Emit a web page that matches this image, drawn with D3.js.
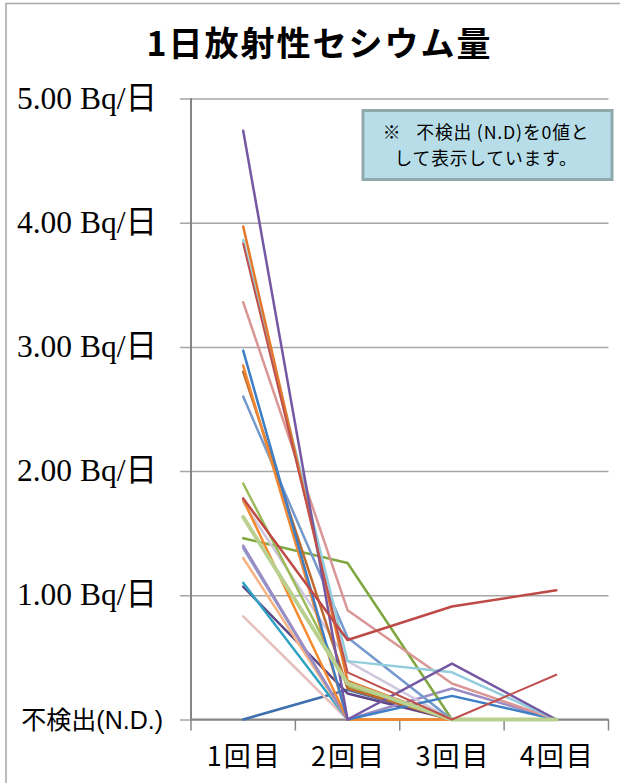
<!DOCTYPE html>
<html><head><meta charset="utf-8">
<script src="https://cdn.jsdelivr.net/npm/d3@7"></script>
<style>html,body{margin:0;padding:0;background:#fff;}svg{display:block;}</style>
</head><body>
<svg id="chart" width="620" height="783"></svg>
<script>
const title = "1日放射性セシウム量";
const categories = ["1回目", "2回目", "3回目", "4回目"];
const yTickValues = [0, 1, 2, 3, 4, 5];
const yTickLabels = ["不検出(N.D.)", "1.00 Bq/日", "2.00 Bq/日", "3.00 Bq/日", "4.00 Bq/日", "5.00 Bq/日"];
const noteMark = "※";
const noteLine1 = "不検出 (N.D)を0値と";
const noteLine2 = "して表示しています。";

// series values (Bq/day), N.D. shown as 0
const s01 = [4.74, 0.00, 0.45, 0.00];
const s02 = [3.97, 0.31, 0.00, 0.00];
const s03 = [3.86, 0.47, 0.38, 0.00];
const s04 = [3.83, 0.38, 0.00, 0.36];
const s05 = [3.36, 0.88, 0.29, 0.00];
const s06 = [2.97, 0.00, 0.19, 0.00];
const s07 = [2.85, 0.00, 0.00, 0.00];
const s08 = [2.80, 0.25, 0.00, 0.00];
const s09 = [2.60, 0.66, 0.00, 0.00];
const s10 = [1.90, 0.27, 0.00, 0.00];
const s11 = [1.78, 0.64, 0.91, 1.04];
const s12 = [1.77, 0.00, 0.00, 0.00];
const s13 = [1.75, 0.47, 0.00, 0.00];
const s14 = [1.63, 0.29, 0.00, 0.00];
const s15 = [1.46, 1.26, 0.00, 0.00];
const s16 = [1.40, 0.00, 0.25, 0.00];
const s17 = [1.38, 0.00, 0.00, 0.00];
const s18 = [1.30, 0.00, 0.00, 0.00];
const s19 = [1.10, 0.00, 0.00, 0.00];
const s20 = [1.07, 0.21, 0.00, 0.00];
const s21 = [0.83, 0.00, 0.00, 0.00];
const s22 = [0.00, 0.24, 0.00, 0.00];

const seriesList = [s22, s21, s20, s19, s18, s17, s16, s15, s13, s12, s10, s09, s08, s07, s06, s05, s03, s02, s01, s14, s11, s04];
const colors = ["#3E6FAE", "#E6BEBD", "#5E4785", "#2FA3C3", "#F9B383", "#8C9DCB", "#9C8CC6", "#7FA63F", "#CFC6DD", "#F58A2E", "#9BBB59", "#7599CC", "#BF6A2C", "#EE8834", "#3D7EC5", "#D99694", "#93CDDD", "#E3782A", "#7558A3", "#B9D08F", "#BE4A47", "#C0504D"];
const widths = [2.5, 2.5, 2.5, 2.5, 2.5, 2.5, 2.5, 2.5, 2.5, 2.5, 2.5, 2.5, 2.5, 2.5, 2.5, 2.5, 2.5, 2.5, 2.5, 4, 2.5, 2];

const svg = d3.select("#chart");

// outer chart border
svg.append("rect").attr("x", 6).attr("y", 3.5).attr("width", 700).attr("height", 900)
  .attr("fill", "none").attr("stroke", "#A6A6A6").attr("stroke-width", 1.5);

// title
svg.append("text").attr("x", 319.5).attr("y", 56)
  .attr("text-anchor", "middle")
  .attr("font-family", "'Noto Sans CJK JP', sans-serif")
  .attr("font-weight", "bold").attr("font-size", 34)
  .attr("letter-spacing", 2)
  .text(title);

const plotL = 191, plotR = 608.5, plotT = 98.5, plotB = 719.5;
const x = d3.scaleBand().domain(categories).range([plotL, plotR]);
const y = d3.scaleLinear().domain([0, 5]).range([plotB, plotT]);
const cx = c => x(c) + x.bandwidth() / 2;

// gridlines (extend left of the axis as tick marks)
const yAxis = d3.axisLeft(y).tickValues(yTickValues).tickSize(-(plotR - plotL + 11)).tickFormat("");
const gy = svg.append("g").attr("transform", `translate(${plotL - 11},0)`).call(yAxis);
gy.select(".domain").remove();
gy.selectAll(".tick line").attr("stroke", "#A6A6A6").attr("stroke-width", 1.5);

// y axis vertical line
svg.append("line").attr("x1", plotL).attr("x2", plotL).attr("y1", plotT - 0.5).attr("y2", plotB)
  .attr("stroke", "#868686").attr("stroke-width", 2);

// x axis with tick marks at band boundaries
const xAxisG = svg.append("g").attr("transform", `translate(0,${plotB})`);
xAxisG.append("line").attr("x1", plotL).attr("x2", plotR).attr("y1", 0).attr("y2", 0)
  .attr("stroke", "#868686").attr("stroke-width", 2);
const boundaries = categories.map(c => x(c)).concat([plotR]);
xAxisG.selectAll("line.tk").data(boundaries).join("line").attr("class", "tk")
  .attr("x1", d => d).attr("x2", d => d).attr("y1", 0).attr("y2", 11)
  .attr("stroke", "#868686").attr("stroke-width", 1.5);

// x labels
svg.append("g").selectAll("text").data(categories).join("text")
  .attr("x", d => cx(d) + 1).attr("y", 766)
  .attr("text-anchor", "middle")
  .attr("font-family", "'Noto Sans CJK JP', sans-serif")
  .attr("font-size", 27).attr("letter-spacing", 2)
  .text(d => d);

// y labels
svg.append("g").selectAll("text").data(yTickValues).join("text")
  .attr("x", (d, i) => i === 0 ? 163 : 157)
  .attr("y", (d, i) => i === 0 ? y(d) + 9 : y(d) + 10)
  .attr("text-anchor", "end")
  .attr("font-family", (d, i) => i === 0 ? "'Liberation Sans', 'Noto Sans CJK JP', sans-serif" : "'Liberation Serif', 'Noto Sans CJK JP', serif")
  .attr("font-size", (d, i) => i === 0 ? 25 : 31.5)
  .text((d, i) => yTickLabels[i]);

// lines
const line = d3.line().x((d, i) => cx(categories[i])).y(d => y(d));
svg.append("g").selectAll("path").data(seriesList).join("path")
  .attr("d", d => line(d))
  .attr("fill", "none")
  .attr("stroke", (d, i) => colors[i])
  .attr("stroke-width", (d, i) => widths[i])
  .attr("stroke-linejoin", "round").attr("stroke-linecap", "round");

// note box
svg.append("rect").attr("x", 363).attr("y", 110.5).attr("width", 249).attr("height", 69)
  .attr("fill", "#B7DEE8").attr("stroke", "#8FA9AC").attr("stroke-width", 3);
const noteG = svg.append("g")
  .attr("font-family", "'Noto Sans CJK JP', sans-serif")
  .attr("font-size", 17.8).attr("letter-spacing", 0.8);
const t1 = noteG.append("text").attr("x", 486).attr("y", 139).attr("text-anchor", "middle");
t1.append("tspan").text(noteMark);
t1.append("tspan").attr("dx", 15).text(noteLine1);
noteG.append("text").attr("x", 486).attr("y", 165).attr("text-anchor", "middle").text(noteLine2);
</script>
</body></html>
